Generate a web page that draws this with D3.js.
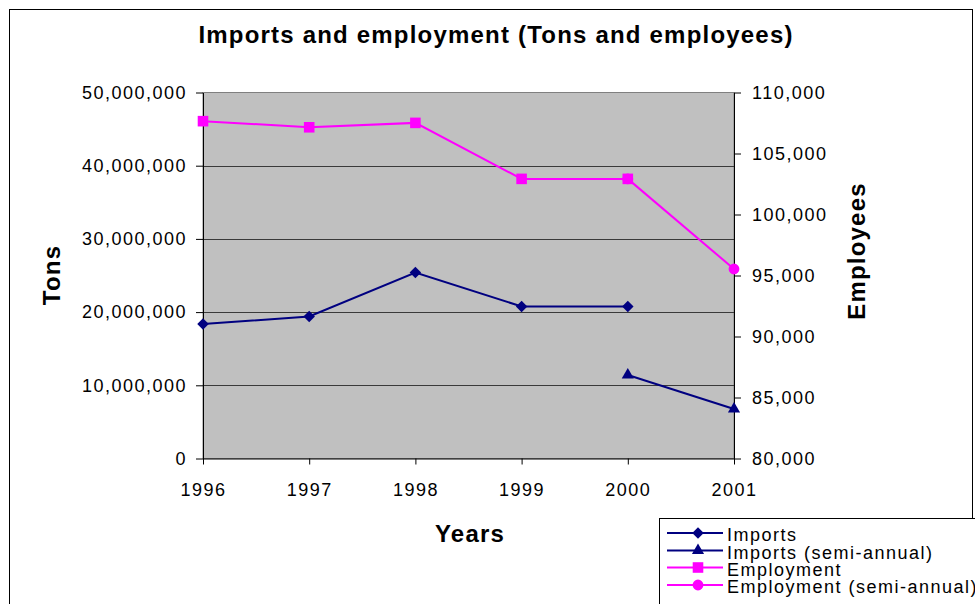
<!DOCTYPE html>
<html>
<head>
<meta charset="utf-8">
<script src="https://cdn.jsdelivr.net/npm/d3@7"></script>
<style>
  body { margin: 0; background: #fff; }
  svg { display: block; font-family: "Liberation Sans", Arial, sans-serif; }
</style>
</head>
<body>
<div id="chart"></div>
<script>
// chart data
var years = ['1996', '1997', '1998', '1999', '2000', '2001'];
var imports = [18360000, 19400000, 25400000, 20770000, 20770000, null];
var importsSemi = [null, null, null, null, 11400000, 6770000];
var employment = [107650, 107150, 107510, 102920, 102920, null];
var employmentSemi = [null, null, null, null, 102920, 95530];
var tonsTicks = [0, 10000000, 20000000, 30000000, 40000000, 50000000];
var employeeTicks = [80000, 85000, 90000, 95000, 100000, 105000, 110000];

var width = 975, height = 604;
var plot = { left: 203, right: 734, top: 92.5, bottom: 458.5 };

var navy = '#000080', magenta = '#ff00ff';

var svg = d3.select('#chart').append('svg')
  .attr('width', width).attr('height', height);

// outer chart frame (runs off the bottom of the picture)
svg.append('rect')
  .attr('x', 9.5).attr('y', 9.5)
  .attr('width', 963).attr('height', 640)
  .attr('fill', '#fff').attr('stroke', '#000').attr('stroke-width', 1);

var x = d3.scalePoint().domain(years).range([plot.left, plot.right]);
var yL = d3.scaleLinear().domain([0, 50000000]).range([plot.bottom, plot.top]);
var yR = d3.scaleLinear().domain([80000, 110000]).range([plot.bottom, plot.top]);

// plot area
svg.append('rect')
  .attr('x', plot.left).attr('y', plot.top)
  .attr('width', plot.right - plot.left).attr('height', plot.bottom - plot.top)
  .attr('fill', '#c0c0c0').attr('stroke', '#808080').attr('stroke-width', 1);

// gridlines on the left scale
svg.append('g').selectAll('line')
  .data(tonsTicks.slice(1, -1))
  .enter().append('line')
  .attr('x1', plot.left).attr('x2', plot.right)
  .attr('y1', d => Math.round(yL(d)) + 0.5).attr('y2', d => Math.round(yL(d)) + 0.5)
  .attr('stroke', '#3a3a3a').attr('stroke-width', 1);

var fmt = d3.format(',');

function styleAxis(g) {
  g.selectAll('text')
    .attr('font-size', 18).attr('fill', '#000')
    .attr('font-family', '"Liberation Sans", Arial, sans-serif')
    .style('letter-spacing', '1.5px');
  g.selectAll('line, path').attr('stroke', '#000');
}

svg.append('g')
  .attr('transform', 'translate(' + plot.left + ',0)')
  .call(d3.axisLeft(yL).tickValues(tonsTicks).tickFormat(fmt).tickSize(7).tickPadding(9).tickSizeOuter(0))
  .call(styleAxis);

svg.append('g')
  .attr('transform', 'translate(' + plot.right + ',0)')
  .call(d3.axisRight(yR).tickValues(employeeTicks).tickFormat(fmt).tickSize(7).tickPadding(11).tickSizeOuter(0))
  .call(styleAxis);

svg.append('g')
  .attr('transform', 'translate(0,' + plot.bottom + ')')
  .call(d3.axisBottom(x).tickSize(6).tickPadding(19).tickSizeOuter(0))
  .call(styleAxis);

// series
var series = [
  { name: 'Imports', values: imports, scale: yL, color: navy, shape: 'diamond' },
  { name: 'Imports (semi-annual)', values: importsSemi, scale: yL, color: navy, shape: 'triangle' },
  { name: 'Employment', values: employment, scale: yR, color: magenta, shape: 'square' },
  { name: 'Employment (semi-annual)', values: employmentSemi, scale: yR, color: magenta, shape: 'circle' }
];

function symbolPath(shape) {
  if (shape === 'diamond') return d3.symbol(d3.symbolSquare, 66)();
  if (shape === 'triangle') return d3.symbol(d3.symbolTriangle, 64)();
  if (shape === 'square') return d3.symbol(d3.symbolSquare, 112)();
  return d3.symbol(d3.symbolCircle, 92)();
}
function symbolRotate(shape) {
  return shape === 'diamond' ? ' rotate(45)' : '';
}

series.forEach(function(s) {
  var pts = years.map((yr, i) => ({ year: yr, v: s.values[i] })).filter(d => d.v != null);
  var line = d3.line().x(d => x(d.year)).y(d => s.scale(d.v));
  svg.append('path')
    .attr('d', line(pts))
    .attr('fill', 'none').attr('stroke', s.color).attr('stroke-width', 2);
  svg.append('g').selectAll('path')
    .data(pts)
    .enter().append('path')
    .attr('d', symbolPath(s.shape))
    .attr('transform', d => 'translate(' + x(d.year) + ',' + s.scale(d.v) + ')' + symbolRotate(s.shape))
    .attr('fill', s.color);
});

// title and axis titles
svg.append('text')
  .attr('x', 496).attr('y', 43)
  .attr('text-anchor', 'middle')
  .attr('font-size', 24).attr('font-weight', 'bold')
  .style('letter-spacing', '1.2px')
  .text('Imports and employment (Tons and employees)');

svg.append('text')
  .attr('x', 470).attr('y', 542)
  .attr('text-anchor', 'middle')
  .attr('font-size', 24).attr('font-weight', 'bold')
  .style('letter-spacing', '1.2px')
  .text('Years');

svg.append('text')
  .attr('transform', 'translate(60,275) rotate(-90)')
  .attr('text-anchor', 'middle')
  .attr('font-size', 24).attr('font-weight', 'bold')
  .style('letter-spacing', '1.2px')
  .text('Tons');

svg.append('text')
  .attr('transform', 'translate(865,251) rotate(-90)')
  .attr('text-anchor', 'middle')
  .attr('font-size', 24).attr('font-weight', 'bold')
  .style('letter-spacing', '1.2px')
  .text('Employees');

// legend (box runs off the right and bottom edges)
var legend = svg.append('g');
legend.append('rect')
  .attr('x', 659.5).attr('y', 518.5)
  .attr('width', 340).attr('height', 120)
  .attr('fill', '#fff').attr('stroke', '#000').attr('stroke-width', 1);

var rowY = [533, 550.5, 567.5, 585];
series.forEach(function(s, i) {
  var g = legend.append('g').attr('transform', 'translate(0,' + rowY[i] + ')');
  g.append('line')
    .attr('x1', 667).attr('x2', 723).attr('y1', 0).attr('y2', 0)
    .attr('stroke', s.color).attr('stroke-width', 2);
  g.append('path')
    .attr('d', symbolPath(s.shape))
    .attr('transform', 'translate(698,0)' + symbolRotate(s.shape))
    .attr('fill', s.color);
  g.append('text')
    .attr('x', 727).attr('y', 8)
    .attr('font-size', 18)
    .style('letter-spacing', '1.5px')
    .text(s.name);
});
</script>
</body>
</html>
